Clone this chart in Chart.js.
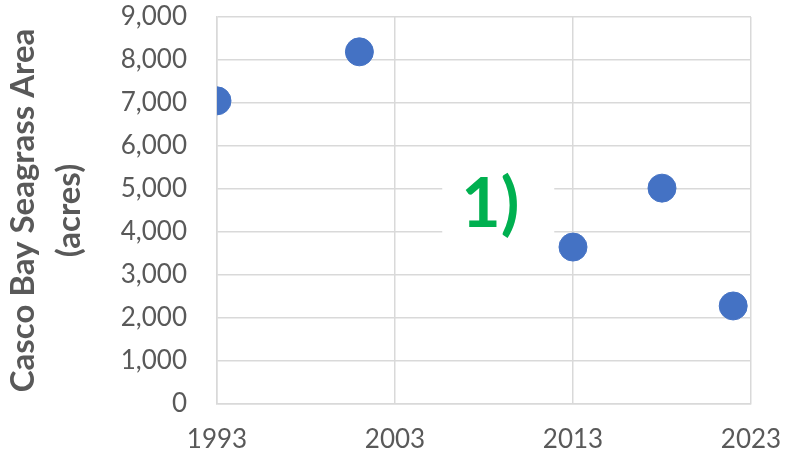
<!DOCTYPE html>
<html>
<head>
<meta charset="utf-8">
<script src="https://cdn.jsdelivr.net/npm/chart.js@4/dist/chart.umd.min.js"></script>
<style>
  html, body { margin: 0; padding: 0; background: #ffffff; }
  #wrap { width: 787px; height: 457px; }
</style>
</head>
<body>
<div id="wrap"><canvas id="myChart"></canvas></div>
<script>
// survey years and seagrass area (acres)
const anos = [1993, 2001, 2013, 2018, 2022];
const areas = [7050, 8190, 3650, 5020, 2280];
const xTicks = [1993, 2003, 2013, 2023];
const yTicks = [0, 1000, 2000, 3000, 4000, 5000, 6000, 7000, 8000, 9000];

// label "1)" in the middle of the chart, with a white box behind it
const rotulo = { text: "1)", x: 2008.8, y: 4630 };

const rotuloPlugin = {
  id: "rotulo",
  afterDatasetsDraw(chart) {
    const ctx = chart.ctx;
    const px = chart.scales.x.getPixelForValue(rotulo.x);
    const py = chart.scales.y.getPixelForValue(rotulo.y);
    ctx.save();
    ctx.fillStyle = "#ffffff";
    ctx.fillRect(px - 56, py - 45, 112, 90);
    ctx.font = "bold 68px Lato";
    ctx.fillStyle = "#00b050";
    ctx.textAlign = "center";
    ctx.textBaseline = "middle";
    // texto um pouco à esquerda do centro da caixa
    ctx.fillText(rotulo.text, px - 8, py);
    ctx.restore();
  },
};

const pontos = anos.map((a, i) => ({ x: a, y: areas[i] }));

new Chart(document.getElementById("myChart"), {
  type: "scatter",
  data: {
    datasets: [
      {
        data: pontos,
        backgroundColor: "#4472c4",
        borderColor: "#4472c4",
        pointRadius: 14,
        pointHoverRadius: 14,
      },
    ],
  },
  options: {
    responsive: true,
    maintainAspectRatio: false,
    animation: false,
    layout: { padding: { top: 17, right: 36, bottom: 0, left: 0 } },
    plugins: {
      legend: { display: false },
      tooltip: { enabled: false },
    },
    scales: {
      x: {
        type: "linear",
        min: 1993,
        max: 2023,
        afterBuildTicks: (axis) => {
          axis.ticks = xTicks.map((v) => ({ value: v }));
        },
        afterFit: (axis) => {
          axis.height = 53;
          axis.paddingLeft = 0;
          axis.paddingRight = 0;
        },
        grid: { color: "#d9d9d9", lineWidth: 1.5, drawTicks: false },
        border: { color: "#d9d9d9", width: 1.5 },
        ticks: {
          padding: 20,
          color: "#595959",
          font: { family: "Lato", size: 26 },
          callback: (v) => String(v),
        },
      },
      y: {
        min: 0,
        max: 9000,
        afterBuildTicks: (axis) => {
          axis.ticks = yTicks.map((v) => ({ value: v }));
        },
        afterFit: (axis) => {
          axis.width = 217;
          axis.paddingTop = 0;
          axis.paddingBottom = 0;
        },
        grid: { color: "#d9d9d9", lineWidth: 1.5, drawTicks: false },
        border: { color: "#d9d9d9", width: 1.5 },
        ticks: {
          padding: 30,
          color: "#595959",
          font: { family: "Lato", size: 26 },
          callback: (v) => v.toLocaleString("en-US"),
        },
        title: {
          display: true,
          text: ["Casco Bay Seagrass Area", "(acres)"],
          color: "#595959",
          font: { family: "Lato", size: 33, weight: "bold", lineHeight: 1.4 },
          padding: { top: 0, bottom: 0 },
        },
      },
    },
  },
  plugins: [rotuloPlugin],
});
</script>
</body>
</html>
